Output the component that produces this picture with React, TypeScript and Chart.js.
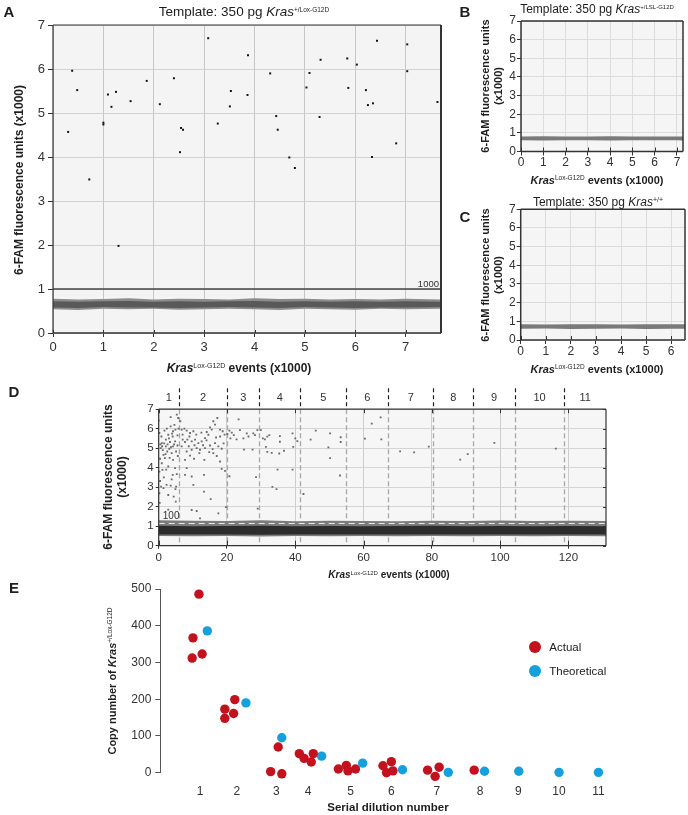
import React, { useEffect, useRef } from 'react';
import { Chart, registerables } from 'chart.js';

Chart.register(...registerables);

const FONT = "'Liberation Sans', Arial, Helvetica, sans-serif";
Chart.defaults.font.family = FONT;
Chart.defaults.color = '#333';

// ---------------- Panel A data ----------------
const aXMax = 7.7;
const aThreshold = 1.0;
const aThresholdLabel = '1000';
const aDroplets = [
  [0.30, 4.57], [0.38, 5.96], [0.48, 5.52], [0.72, 3.49], [1.00, 4.78], [1.00, 4.74],
  [1.09, 5.42], [1.16, 5.14], [1.25, 5.48], [1.30, 1.98], [1.54, 5.27], [1.86, 5.73],
  [2.12, 5.20], [2.40, 5.79], [2.52, 4.11], [2.54, 4.66], [2.58, 4.62], [3.08, 6.70],
  [3.27, 4.76], [3.51, 5.15], [3.53, 5.50], [3.86, 5.41], [3.87, 6.31], [4.31, 5.90],
  [4.43, 4.93], [4.46, 4.62], [4.69, 3.99], [4.80, 3.75], [5.03, 5.58], [5.09, 5.91],
  [5.29, 4.91], [5.31, 6.21], [5.84, 6.24], [5.86, 5.57], [6.03, 6.10], [6.21, 5.52],
  [6.25, 5.18], [6.35, 5.22], [6.33, 4.00], [6.43, 6.64], [6.81, 4.31], [7.03, 6.56],
  [7.03, 5.95], [7.63, 5.25],
];
const aBandX = [0, 0.5, 1, 1.5, 2, 2.5, 3, 3.5, 4, 4.5, 5, 5.5, 6, 6.5, 7, 7.7];
const aOuterUpper = [0.78, 0.76, 0.77, 0.79, 0.76, 0.78, 0.77, 0.76, 0.79, 0.77, 0.78, 0.76, 0.77, 0.76, 0.78, 0.76];
const aOuterLower = [0.54, 0.52, 0.55, 0.54, 0.55, 0.53, 0.54, 0.55, 0.54, 0.52, 0.55, 0.54, 0.53, 0.55, 0.54, 0.55];
const aCoreUpper = [0.72, 0.71, 0.72, 0.73, 0.71, 0.72, 0.71, 0.72, 0.73, 0.71, 0.72, 0.71, 0.72, 0.71, 0.72, 0.71];
const aCoreLower = [0.58, 0.57, 0.59, 0.58, 0.58, 0.57, 0.58, 0.59, 0.58, 0.57, 0.59, 0.58, 0.57, 0.58, 0.58, 0.59];

// ---------------- Panel B data ----------------
const bXMax = 7.27;
const bBandX = [0, 1, 2, 3, 4, 5, 6, 7, 7.27];
const bBandUpper = [0.80, 0.82, 0.80, 0.81, 0.82, 0.80, 0.81, 0.80, 0.81];
const bBandLower = [0.60, 0.59, 0.61, 0.60, 0.59, 0.61, 0.60, 0.60, 0.59];

// ---------------- Panel C data ----------------
const cXMax = 6.55;
const cBandX = [0, 1, 2, 3, 4, 5, 6, 6.55];
const cBandUpper = [0.84, 0.83, 0.85, 0.84, 0.83, 0.85, 0.84, 0.84];
const cBandLower = [0.60, 0.61, 0.59, 0.60, 0.61, 0.59, 0.60, 0.60];

// ---------------- Panel D data ----------------
const dXMax = 131;
const dThreshold = 1.14;
const dThresholdLabel = '100';
const dBoundaries = [5.9, 20.1, 29.4, 41.5, 54.9, 67.3, 80.4, 92.1, 104.3, 118.8];
const dSampleLabels = ['1', '2', '3', '4', '5', '6', '7', '8', '9', '10', '11'];
const dDroplets = [
  // sample 1
  [0.0, 6.42], [0.2, 5.78], [0.9, 5.26], [0.6, 5.0], [1.4, 4.66], [0.4, 4.46], [0.9, 4.23], [1.1, 3.89],
  [0.2, 3.8], [0.4, 3.32], [0.7, 3.03], [1.4, 2.95], [0.2, 2.69], [3.5, 6.59], [5.3, 6.72], [5.7, 6.55],
  [3.5, 6.12], [4.2, 5.87], [4.9, 5.95], [2.8, 5.69], [4.1, 5.6], [5.5, 5.66], [2.1, 5.44], [3.3, 5.32],
  [4.8, 5.35], [2.1, 5.09], [3.1, 4.97], [4.2, 5.09], [5.5, 5.14], [2.5, 4.83], [3.8, 4.75], [5.1, 4.83],
  [1.8, 4.49], [4.2, 4.4], [2.8, 4.06], [4.8, 3.98], [4.1, 3.63], [5.3, 3.67], [2.3, 3.12], [3.5, 3.08],
  [5.1, 3.03], [2.8, 2.6], [4.4, 2.52], [5.0, 2.26], [2.8, 1.85], [0.5, 5.2], [1.0, 5.1], [1.6, 5.25],
  [2.6, 5.2], [3.6, 5.05], [4.5, 5.2], [1.2, 4.9], [2.0, 4.7], [3.0, 5.5], [3.9, 5.75], [2.4, 6.0],
  [1.7, 5.9], [4.6, 6.2], [5.8, 6.0], [0.8, 5.6], [3.2, 4.5], [5.6, 4.6], [1.5, 3.5], [3.8, 3.4],
  [0.3, 2.2], [4.9, 2.9], [2.2, 3.9],
  // sample 2
  [6.34, 6.38], [6.73, 5.95], [7.52, 6.0], [8.2, 5.9], [9.18, 5.78], [10.15, 5.87], [7.03, 5.44], [7.71, 5.32],
  [8.39, 5.44], [9.66, 5.35], [10.64, 5.44], [11.62, 5.26], [12.59, 5.35], [13.57, 5.52], [14.54, 5.69], [15.52, 5.95],
  [16.5, 6.21], [17.18, 6.55], [16.0, 6.38], [15.03, 6.07], [14.06, 5.83], [17.96, 5.95], [18.74, 5.87], [6.73, 5.09],
  [8.2, 4.83], [9.66, 4.92], [11.13, 5.0], [12.1, 4.92], [13.57, 5.0], [15.03, 5.14], [16.5, 5.26], [17.47, 5.09],
  [18.45, 4.97], [7.71, 4.4], [9.18, 4.62], [10.35, 4.46], [11.91, 4.75], [13.37, 4.4], [16.0, 4.75], [8.2, 3.98],
  [7.71, 3.63], [9.66, 3.55], [13.27, 3.63], [17.96, 4.32], [18.45, 3.94], [19.42, 3.84], [10.15, 3.12], [13.27, 2.77],
  [15.23, 2.39], [9.66, 1.83], [11.13, 1.78], [12.1, 1.4], [17.47, 1.66], [19.7, 1.98], [7.0, 5.7], [9.0, 5.6],
  [11.0, 5.7], [12.5, 5.8], [14.0, 5.4], [16.8, 5.55], [18.0, 5.6], [19.3, 5.7], [10.5, 5.15], [13.0, 5.15],
  [15.8, 4.95], [19.0, 5.25], [8.8, 5.1], [14.8, 4.8], [17.0, 4.6],
  // sample 3
  [20.7, 5.9], [21.4, 5.8], [20.1, 5.73], [22.0, 5.67], [23.4, 6.48], [23.8, 5.93], [22.8, 5.45], [24.8, 5.5],
  [25.0, 4.93], [25.8, 5.76], [27.7, 5.76], [28.2, 5.67], [27.5, 4.93], [28.9, 5.93], [20.7, 3.56], [28.5, 3.52],
  [29.0, 1.9], [26.3, 5.6], [21.0, 5.5],
  // sample 4
  [29.9, 5.93], [30.5, 5.5], [31.1, 5.45], [31.8, 5.59], [32.4, 5.67], [31.4, 5.07], [31.8, 4.81], [33.1, 4.76],
  [35.5, 5.62], [35.5, 5.33], [35.3, 4.73], [36.7, 4.87], [34.8, 3.9], [39.2, 3.9], [39.2, 5.76], [40.0, 5.5],
  [40.6, 5.36], [39.4, 5.07], [33.3, 3.02], [34.5, 2.9],
  // sample 5
  [42.4, 2.65], [44.5, 5.44], [46.0, 5.9], [50.2, 5.76], [49.7, 5.04], [50.2, 4.49], [53.3, 5.56], [53.3, 5.32],
  [53.1, 3.6],
  // samples 6-11
  [60.4, 5.49], [62.4, 6.26], [65.0, 6.58], [65.2, 5.45], [70.7, 4.84], [74.8, 4.79], [79.1, 5.08], [88.3, 4.41],
  [90.5, 4.70], [98.3, 5.27], [116.3, 4.98], [105.8, 1.22],
];
const dBandX = [0, 10, 20, 30, 40, 50, 60, 70, 80, 90, 100, 110, 120, 131];
const dOuterUpper = [1.30, 1.28, 1.27, 1.30, 1.26, 1.28, 1.27, 1.26, 1.28, 1.27, 1.29, 1.27, 1.28, 1.27];
const dOuterLower = [0.50, 0.48, 0.50, 0.47, 0.50, 0.49, 0.50, 0.48, 0.50, 0.49, 0.50, 0.49, 0.50, 0.49];
const dCoreUpper = [1.02, 1.00, 1.01, 1.02, 1.00, 1.01, 1.00, 1.01, 1.02, 1.00, 1.01, 1.00, 1.01, 1.00];
const dCoreLower = [0.58, 0.57, 0.58, 0.56, 0.58, 0.57, 0.58, 0.57, 0.58, 0.57, 0.58, 0.57, 0.58, 0.57];

// ---------------- Panel E data ----------------
const eTickPos = [1, 1.92, 2.91, 3.71, 4.78, 5.80, 6.94, 8.03, 8.99, 10.01, 11.0];
const eTickLabels = ['1', '2', '3', '4', '5', '6', '7', '8', '9', '10', '11'];
const eActual = [
  [0.97, 486], [0.82, 367], [0.80, 312], [1.05, 323],
  [1.62, 173], [1.62, 148], [1.87, 199], [1.84, 161],
  [2.77, 3], [2.96, 70], [3.05, -3],
  [3.49, 52], [3.61, 39], [3.84, 52], [3.79, 29],
  [4.47, 10], [4.67, 20], [4.71, 5], [4.90, 10],
  [5.59, 19], [5.80, 30], [5.68, 0], [5.84, 5],
  [6.71, 7], [7.00, 15], [6.90, -10],
  [7.88, 7],
];
const eTheoretical = [
  [1.18, 386], [2.15, 190], [3.05, 95], [4.05, 45], [5.08, 26], [6.08, 8],
  [7.23, 1], [8.14, 4], [9.0, 4], [10.01, 1], [11.0, 1],
];
const eSeriesNames = ['Actual', 'Theoretical'];
const eColors = ['#c3121e', '#14a0dc'];

// ---------------- helpers ----------------
const pts = (arr: number[][]) => arr.map(([x, y]) => ({ x, y }));
const edge = (xs: number[], ys: number[]) => xs.map((x, i) => ({ x, y: ys[i] }));
const NONE = 'rgba(0,0,0,0)';

function bandPair(xs: number[], lower: number[], upper: number[], color: string, lowerIndex: number) {
  return [
    { type: 'line', data: edge(xs, lower), borderColor: NONE, borderWidth: 0, pointRadius: 0, fill: false },
    { type: 'line', data: edge(xs, upper), borderColor: NONE, borderWidth: 0, pointRadius: 0, fill: lowerIndex, backgroundColor: color },
  ];
}

function decor(o: any) {
  return {
    id: 'decor',
    beforeDraw(chart: any) {
      if (!o.bg) return;
      const { ctx, chartArea: ca } = chart;
      ctx.save();
      ctx.fillStyle = o.bg;
      ctx.fillRect(ca.left, ca.top, ca.right - ca.left, ca.bottom - ca.top);
      ctx.restore();
    },
    beforeDatasetsDraw(chart: any) {
      const d = o.dividers;
      if (!d) return;
      const { ctx, chartArea: ca, scales } = chart;
      ctx.save();
      ctx.strokeStyle = d.innerColor;
      ctx.lineWidth = 1.3;
      ctx.setLineDash([5, 3]);
      for (const v of d.values) {
        const px = Math.round(scales.x.getPixelForValue(v)) + 0.5;
        ctx.beginPath(); ctx.moveTo(px, ca.top); ctx.lineTo(px, ca.bottom); ctx.stroke();
      }
      ctx.restore();
    },
    afterDatasetsDraw(chart: any) {
      const { ctx, scales } = chart;
      if (!o.texts) return;
      for (const t of o.texts) {
        ctx.save();
        ctx.font = t.font;
        ctx.fillStyle = t.color;
        ctx.textAlign = t.align;
        ctx.textBaseline = 'alphabetic';
        ctx.fillText(t.text, scales.x.getPixelForValue(t.x) + (t.dx || 0), scales.y.getPixelForValue(t.y) + (t.dy || 0));
        ctx.restore();
      }
    },
    afterDraw(chart: any) {
      const { ctx, chartArea: ca, scales } = chart;
      ctx.save();
      const line = (x1: number, y1: number, x2: number, y2: number) => {
        ctx.beginPath(); ctx.moveTo(x1, y1); ctx.lineTo(x2, y2); ctx.stroke();
      };
      ctx.strokeStyle = o.tickColor || '#333';
      ctx.lineWidth = 1;
      if (o.innerX || o.topX) {
        for (const t of scales.x.ticks) {
          const px = Math.round(scales.x.getPixelForValue(t.value)) + 0.5;
          if (o.innerX) line(px, ca.bottom, px, ca.bottom - o.innerX);
          if (o.topX) line(px, ca.top, px, ca.top + o.topX);
        }
      }
      if (o.innerY || o.rightY) {
        for (const t of scales.y.ticks) {
          const py = Math.round(scales.y.getPixelForValue(t.value)) + 0.5;
          if (o.innerY) line(ca.left, py, ca.left + o.innerY, py);
          if (o.rightY) line(ca.right, py, ca.right - o.rightY, py);
        }
      }
      const f = o.frame;
      if (f) {
        ctx.strokeStyle = f.color;
        const side = (w: number, x1: number, y1: number, x2: number, y2: number) => {
          if (!w) return;
          ctx.lineWidth = w;
          line(x1, y1, x2, y2);
        };
        side(f.top, ca.left, ca.top, ca.right, ca.top);
        side(f.bottom, ca.left, ca.bottom, ca.right, ca.bottom);
        side(f.left, ca.left, ca.top, ca.left, ca.bottom);
        side(f.right, ca.right, ca.top, ca.right, ca.bottom);
      }
      const d = o.dividers;
      if (d) {
        ctx.strokeStyle = d.outerColor;
        ctx.lineWidth = 1.2;
        ctx.setLineDash([4, 3]);
        for (const v of d.values) {
          const px = Math.round(scales.x.getPixelForValue(v)) + 0.5;
          line(px, ca.top - d.outerLen, px, ca.top);
        }
        ctx.setLineDash([]);
        const bounds = [scales.x.min, ...d.values, scales.x.max];
        ctx.font = d.font;
        ctx.fillStyle = '#333';
        ctx.textAlign = 'center';
        ctx.textBaseline = 'middle';
        for (let i = 0; i < d.labels.length; i++) {
          const mid = (bounds[i] + bounds[i + 1]) / 2;
          ctx.fillText(d.labels[i], scales.x.getPixelForValue(mid), ca.top - d.labelGap);
        }
      }
      ctx.restore();
    },
  };
}

const basePlugins = { legend: { display: false }, tooltip: { enabled: false } };

// ---------------- configs ----------------
function configA() {
  return {
    type: 'scatter',
    data: {
      datasets: [
        { data: pts(aDroplets), pointStyle: 'rect', pointRadius: 1.4, backgroundColor: '#111', borderWidth: 0 },
        { type: 'line', data: [{ x: 0, y: aThreshold }, { x: aXMax, y: aThreshold }], borderColor: '#444', borderWidth: 1.7, pointRadius: 0, fill: false },
        ...bandPair(aBandX, aCoreLower, aCoreUpper, '#595959', 2),
        ...bandPair(aBandX, aOuterLower, aOuterUpper, '#8c8c8c', 4),
      ],
    },
    options: {
      animation: false, responsive: false, maintainAspectRatio: false,
      layout: { padding: { top: 25, right: 19, left: 0, bottom: 0 } },
      plugins: basePlugins,
      scales: {
        x: {
          type: 'linear', min: 0, max: aXMax,
          ticks: { stepSize: 1, includeBounds: false, font: { size: 13 }, color: '#333', padding: 3, maxRotation: 0 },
          grid: { color: '#c6c6c6', tickLength: 4, tickColor: '#333' },
          border: { display: false },
          afterFit: (s: any) => { s.height = 42; },
        },
        y: {
          type: 'linear', min: 0, max: 7,
          ticks: { stepSize: 1, font: { size: 13 }, color: '#333', padding: 3 },
          grid: { color: '#d2d2d2', tickLength: 5, tickColor: '#333' },
          border: { display: false },
          afterFit: (s: any) => { s.width = 53; },
        },
      },
    },
    plugins: [decor({
      bg: '#f4f4f4',
      innerX: 3,
      frame: { color: '#333', top: 1, bottom: 1.5, left: 1.2, right: 2 },
      texts: [{ x: aXMax, y: aThreshold, dx: -2, dy: -2, text: aThresholdLabel, font: `9.5px ${FONT}`, color: '#333', align: 'right' }],
    })],
  };
}

function configSmall(xMax: number, bandX: number[], lower: number[], upper: number[], padTop: number, padRight: number, yWidth: number, xHeight: number) {
  return {
    type: 'scatter',
    data: {
      datasets: [...bandPair(bandX, lower, upper, '#7a7a7a', 0)],
    },
    options: {
      animation: false, responsive: false, maintainAspectRatio: false,
      layout: { padding: { top: padTop, right: padRight, left: 0, bottom: 0 } },
      plugins: basePlugins,
      scales: {
        x: {
          type: 'linear', min: 0, max: xMax,
          ticks: { stepSize: 1, includeBounds: false, font: { size: 12 }, color: '#333', padding: 0, maxRotation: 0 },
          grid: { color: '#dcdcdc', tickLength: 4, tickColor: '#333' },
          border: { display: false },
          afterFit: (s: any) => { s.height = xHeight; },
        },
        y: {
          type: 'linear', min: 0, max: 7,
          ticks: { stepSize: 1, font: { size: 12 }, color: '#333', padding: 1 },
          grid: { color: '#dcdcdc', tickLength: 4, tickColor: '#333' },
          border: { display: false },
          afterFit: (s: any) => { s.width = yWidth; },
        },
      },
    },
    plugins: [decor({
      bg: '#f5f5f5',
      innerX: 4,
      frame: { color: '#333', top: 1.5, bottom: 1.5, left: 1.5, right: 1.5 },
    })],
  };
}

function configD() {
  return {
    type: 'scatter',
    data: {
      datasets: [
        { data: pts(dDroplets), pointStyle: 'rect', pointRadius: 1.3, backgroundColor: '#6b6b6b', borderWidth: 0 },
        { type: 'line', data: [{ x: 0, y: dThreshold }, { x: dXMax, y: dThreshold }], borderColor: 'rgba(255,255,255,0.85)', borderWidth: 1, borderDash: [6, 4], pointRadius: 0, fill: false },
        ...bandPair(dBandX, dCoreLower, dCoreUpper, '#2c2c2c', 2),
        ...bandPair(dBandX, dOuterLower, dOuterUpper, '#7c7c7c', 4),
      ],
    },
    options: {
      animation: false, responsive: false, maintainAspectRatio: false,
      layout: { padding: { top: 29.2, right: 82, left: 0, bottom: 0 } },
      plugins: basePlugins,
      scales: {
        x: {
          type: 'linear', min: 0, max: dXMax,
          ticks: { stepSize: 20, includeBounds: false, font: { size: 11.5 }, color: '#333', padding: 2, maxRotation: 0 },
          grid: { color: '#cdcdcd', tickLength: 3, tickColor: '#333' },
          border: { display: false },
          afterFit: (s: any) => { s.height = 24.3; },
        },
        y: {
          type: 'linear', min: 0, max: 7,
          ticks: { stepSize: 1, font: { size: 11.5 }, color: '#333', padding: 2 },
          grid: { color: '#d4d4d4', tickLength: 3, tickColor: '#333' },
          border: { display: false },
          afterFit: (s: any) => { s.width = 158.7; },
        },
      },
    },
    plugins: [decor({
      bg: '#f6f6f6',
      innerX: 5, topX: 4, rightY: 3,
      frame: { color: '#333', top: 1.2, bottom: 1.2, left: 1.2, right: 1.2 },
      dividers: { values: dBoundaries, labels: dSampleLabels, innerColor: '#a8a8a8', outerColor: '#222', outerLen: 21, labelGap: 11, font: `11px ${FONT}` },
      texts: [{ x: 1.2, y: 1.36, text: dThresholdLabel, font: `10px ${FONT}`, color: '#333', align: 'left' }],
    })],
  };
}

function configE() {
  return {
    type: 'scatter',
    data: {
      datasets: [
        { label: eSeriesNames[0], data: pts(eActual), pointRadius: 4.7, backgroundColor: eColors[0], borderWidth: 0, clip: false },
        { label: eSeriesNames[1], data: pts(eTheoretical), pointRadius: 4.7, backgroundColor: eColors[1], borderWidth: 0, clip: false },
      ],
    },
    options: {
      animation: false, responsive: false, maintainAspectRatio: false,
      layout: { padding: { top: 14, right: 49.7, left: 0, bottom: 0 } },
      plugins: basePlugins,
      scales: {
        x: {
          type: 'linear', min: 0, max: 12,
          afterBuildTicks: (s: any) => { s.ticks = eTickPos.map((v) => ({ value: v })); },
          ticks: { callback: (_v: any, i: number) => eTickLabels[i], font: { size: 12 }, color: '#333', padding: 12, autoSkip: false, maxRotation: 0 },
          grid: { display: false, drawTicks: false },
          border: { display: false },
          afterFit: (s: any) => { s.height = 42.3; },
        },
        y: {
          type: 'linear', min: 0, max: 500,
          ticks: { stepSize: 100, font: { size: 12 }, color: '#333', padding: 4 },
          grid: { drawOnChartArea: false, tickLength: 5, tickColor: '#555' },
          border: { display: true, color: '#555', width: 1 },
          afterFit: (s: any) => { s.width = 160.3; },
        },
      },
    },
  };
}

// ---------------- components ----------------
function ChartBox({ left, top, width, height, make }: any) {
  const ref = useRef<HTMLCanvasElement>(null);
  useEffect(() => {
    const chart = new Chart(ref.current as HTMLCanvasElement, make());
    return () => chart.destroy();
  }, []);
  return (
    <canvas
      ref={ref}
      width={width}
      height={height}
      style={{ position: 'absolute', left, top, width, height, display: 'block' }}
    />
  );
}

function Txt({ cx, cy, rot = 0, size, bold = false, children, lh = 1.15 }: any) {
  return (
    <div
      style={{
        position: 'absolute', left: cx, top: cy,
        transform: `translate(-50%, -50%) rotate(${rot}deg)`,
        fontSize: size, fontWeight: bold ? 700 : 400, lineHeight: lh,
        whiteSpace: 'nowrap', color: '#1e1e1e', fontFamily: FONT, textAlign: 'center',
      }}
    >
      {children}
    </div>
  );
}

function Sup({ size, raise, children }: any) {
  return (
    <span style={{ fontSize: size, position: 'relative', top: -raise, fontWeight: 400, fontStyle: 'normal' }}>
      {children}
    </span>
  );
}

function Kras({ sup, size, raise }: any) {
  return (
    <>
      <i>Kras</i>
      <Sup size={size} raise={raise}>{sup}</Sup>
    </>
  );
}

function LegendItem({ cx, cy, color, label }: any) {
  return (
    <>
      <div style={{ position: 'absolute', left: cx - 6, top: cy - 6, width: 12, height: 12, borderRadius: 6, background: color }} />
      <div style={{ position: 'absolute', left: cx + 14, top: cy - 7, fontSize: 11.5, lineHeight: '14px', color: '#222', fontFamily: FONT, whiteSpace: 'nowrap' }}>
        {label}
      </div>
    </>
  );
}

export default function App() {
  return (
    <div style={{ position: 'absolute', left: 0, top: 0, width: 688, height: 815, background: '#fff', overflow: 'hidden', fontFamily: FONT }}>
      <ChartBox left={0} top={0} width={460} height={375} make={configA} />
      <ChartBox left={470} top={0} width={218} height={200}
        make={() => configSmall(bXMax, bBandX, bBandLower, bBandUpper, 21, 5, 51, 48.5)} />
      <ChartBox left={470} top={190} width={218} height={200}
        make={() => configSmall(cXMax, cBandX, cBandLower, cBandUpper, 19.3, 3, 50.7, 50)} />
      <ChartBox left={0} top={380} width={688} height={190} make={configD} />
      <ChartBox left={0} top={575} width={688} height={240} make={configE} />

      {/* Panel A */}
      <Txt cx={9} cy={12} size={15} bold>A</Txt>
      <Txt cx={244} cy={12} size={13.5}>Template: 350 pg <Kras sup="+/Lox-G12D" size={6.5} raise={4.5} /></Txt>
      <Txt cx={20} cy={180} rot={-90} size={12} bold>6-FAM fluorescence units (x1000)</Txt>
      <Txt cx={239} cy={369} size={12} bold><Kras sup="Lox-G12D" size={7} raise={4.5} /> events (x1000)</Txt>

      {/* Panel B */}
      <Txt cx={465} cy={12} size={15} bold>B</Txt>
      <Txt cx={597} cy={10} size={12}>Template: 350 pg <Kras sup="+/LSL-G12D" size={6} raise={4} /></Txt>
      <Txt cx={491.5} cy={86} rot={-90} size={11} bold lh={1.18}>6-FAM fluorescence units<br />(x1000)</Txt>
      <Txt cx={597} cy={180} size={11} bold><Kras sup="Lox-G12D" size={6.5} raise={4} /> events (x1000)</Txt>

      {/* Panel C */}
      <Txt cx={465} cy={217} size={15} bold>C</Txt>
      <Txt cx={598} cy={202.5} size={12}>Template: 350 pg <Kras sup="+/+" size={7} raise={4} /></Txt>
      <Txt cx={491.5} cy={275} rot={-90} size={11} bold lh={1.18}>6-FAM fluorescence units<br />(x1000)</Txt>
      <Txt cx={597} cy={369} size={11} bold><Kras sup="Lox-G12D" size={6.5} raise={4} /> events (x1000)</Txt>

      {/* Panel D */}
      <Txt cx={14} cy={392} size={15} bold>D</Txt>
      <Txt cx={115} cy={477} rot={-90} size={12} bold lh={1.17}>6-FAM fluorescence units<br />(x1000)</Txt>
      <Txt cx={389} cy={575} size={10} bold><Kras sup="Lox-G12D" size={6} raise={3.5} /> events (x1000)</Txt>

      {/* Panel E */}
      <Txt cx={14} cy={588} size={15} bold>E</Txt>
      <Txt cx={112} cy={681} rot={-90} size={11} bold>Copy number of <Kras sup="+/Lox-G12D" size={6.5} raise={4} /></Txt>
      <Txt cx={388} cy={808} size={11.5} bold>Serial dilution number</Txt>
      <LegendItem cx={535.3} cy={647.3} color={eColors[0]} label={eSeriesNames[0]} />
      <LegendItem cx={535.3} cy={671.3} color={eColors[1]} label={eSeriesNames[1]} />
    </div>
  );
}
